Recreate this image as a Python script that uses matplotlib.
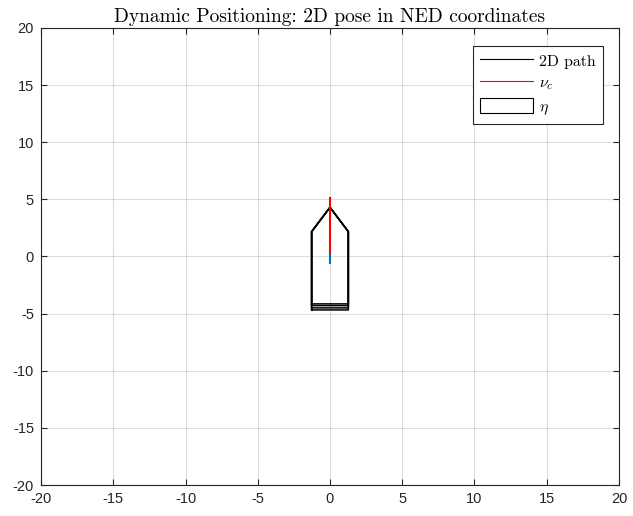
import matplotlib.pyplot as plt
import numpy as np
from matplotlib.lines import Line2D
from matplotlib.patches import Patch

plt.rcParams['axes.unicode_minus'] = False
plt.rcParams['mathtext.fontset'] = 'cm'

# vessel outline (east, north): bow tip, shoulders, stern corners
beam_half = 1.27
bow_north = 4.3
shoulder_north = 2.17
# stern edge of each pose snapshot
stern_north = [-4.15, -4.3, -4.5, -4.68]

# 2D path of the vessel
path_east = [0.0, 0.0, 0.0, 0.0]
path_north = [-0.57, -0.3, 0.0, 0.28]

# commanded velocity nu_c
nu_c_east = [0.0, 0.0]
nu_c_north = [0.28, 5.1]

fig = plt.figure(figsize=(6.33, 5.16), dpi=100)
ax = fig.add_axes([0.0648, 0.060, 0.913, 0.886])

ax.plot(path_east, path_north, color='#0072BD', linewidth=1.5, zorder=3)
ax.plot(nu_c_east, nu_c_north, color='red', linewidth=1.5, zorder=4)

# pose snapshots
for sn in stern_north:
    hx = [-beam_half, -beam_half, 0.0, beam_half, beam_half, -beam_half]
    hy = [sn, shoulder_north, bow_north, shoulder_north, sn, sn]
    ax.plot(hx, hy, color='black', linewidth=1.1, zorder=2)

ax.set_xlim(-20, 20)
ax.set_ylim(-20, 20)
ax.set_xticks(np.arange(-20, 21, 5))
ax.set_yticks(np.arange(-20, 21, 5))
ax.tick_params(direction='in', length=4, labelsize=10.5, colors='#262626',
               top=True, right=True, labeltop=False, labelright=False, pad=5)
for lbl in ax.get_xticklabels() + ax.get_yticklabels():
    lbl.set_fontfamily('Liberation Sans')
ax.grid(True, color='#262626', alpha=0.15, linewidth=0.8)
ax.set_axisbelow(True)
for s in ax.spines.values():
    s.set_color('#262626')
    s.set_linewidth(0.8)

ax.set_title('Dynamic Positioning: 2D pose in NED coordinates',
             fontfamily='cmr10', fontsize=14, pad=4)

handles = [Line2D([], [], color='black', linewidth=0.8),
           Line2D([], [], color='red', linewidth=0.8),
           Patch(facecolor='white', edgecolor='black', linewidth=0.8)]
leg = ax.legend(handles, ['2D path', r'$\nu_c$', r'$\eta$'],
                loc='upper right', bbox_to_anchor=(0.972, 0.9606),
                prop={'family': 'cmr10', 'size': 11.4},
                fancybox=False, framealpha=1, edgecolor='#262626',
                handlelength=3.35, handleheight=1.0, borderpad=0.45,
                labelspacing=0.4, handletextpad=0.4, borderaxespad=0)
leg.get_frame().set_linewidth(0.8)

fig.savefig('out.png', dpi=100)
